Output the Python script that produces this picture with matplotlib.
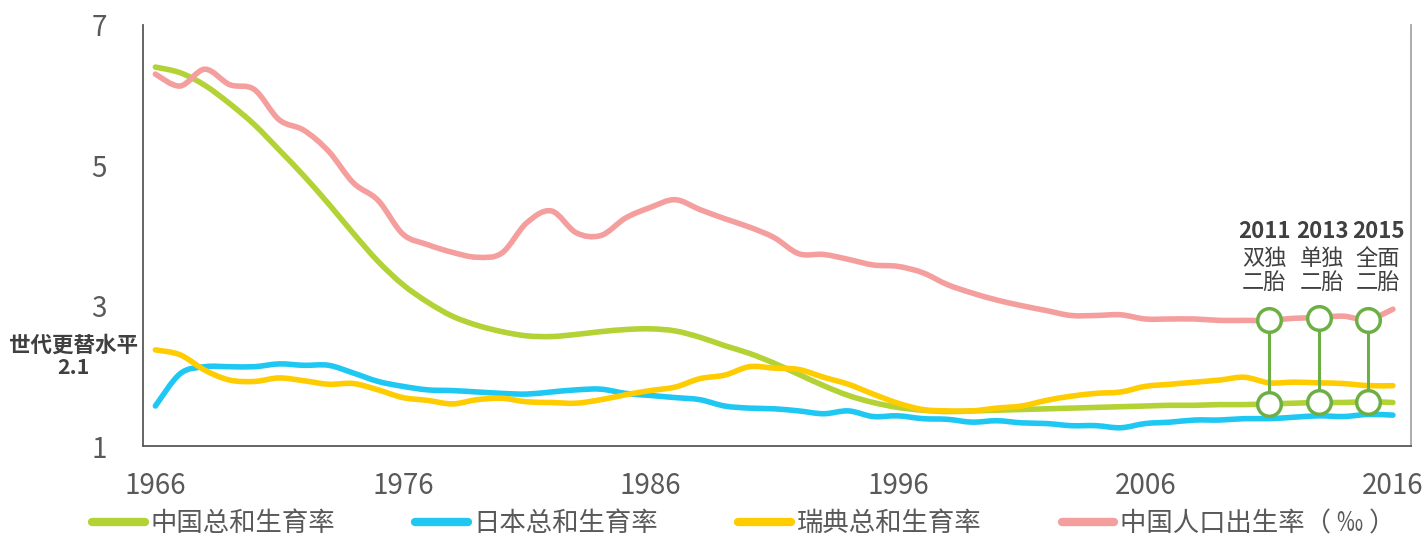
import numpy as np
import matplotlib
matplotlib.use('Agg')
import matplotlib.pyplot as plt
from matplotlib.path import Path
from matplotlib.patches import PathPatch
from matplotlib.lines import Line2D

plt.rcParams['font.family'] = ['Noto Sans CJK SC', 'DejaVu Sans']

years = np.arange(1966, 2017)

# 中国总和生育率
china_tfr = [6.40, 6.32, 6.14, 5.88, 5.58, 5.22, 4.85, 4.45, 4.03, 3.63,
             3.30, 3.05, 2.85, 2.72, 2.63, 2.57, 2.56, 2.59, 2.63, 2.66,
             2.67, 2.64, 2.55, 2.43, 2.32, 2.18, 2.02, 1.86, 1.72, 1.62,
             1.55, 1.51, 1.49, 1.50, 1.51, 1.52, 1.53, 1.54, 1.55, 1.56,
             1.57, 1.58, 1.58, 1.59, 1.59, 1.60, 1.61, 1.62, 1.62, 1.63,
             1.62]
# 日本总和生育率
japan_tfr = [1.57, 2.03, 2.13, 2.13, 2.13, 2.17, 2.15, 2.15, 2.04, 1.92,
             1.85, 1.80, 1.79, 1.77, 1.75, 1.74, 1.77, 1.80, 1.81, 1.75,
             1.72, 1.69, 1.66, 1.57, 1.54, 1.53, 1.50, 1.46, 1.50, 1.42,
             1.43, 1.39, 1.38, 1.34, 1.36, 1.33, 1.32, 1.29, 1.29, 1.26,
             1.32, 1.34, 1.37, 1.37, 1.39, 1.39, 1.41, 1.43, 1.42, 1.45,
             1.44]
# 瑞典总和生育率
sweden_tfr = [2.37, 2.30, 2.08, 1.94, 1.92, 1.97, 1.93, 1.88, 1.89, 1.80,
              1.69, 1.65, 1.60, 1.66, 1.68, 1.63, 1.62, 1.61, 1.66, 1.73,
              1.79, 1.84, 1.96, 2.01, 2.13, 2.11, 2.09, 1.98, 1.88, 1.74,
              1.61, 1.52, 1.50, 1.50, 1.54, 1.57, 1.65, 1.71, 1.75, 1.77,
              1.85, 1.88, 1.91, 1.94, 1.98, 1.90, 1.91, 1.90, 1.89, 1.86,
              1.86]
# 中国人口出生率（‰，按图中比例）
china_birth = [6.30, 6.13, 6.37, 6.15, 6.08, 5.65, 5.50, 5.20, 4.75, 4.50,
               4.02, 3.87, 3.76, 3.69, 3.75, 4.18, 4.35, 4.04, 4.00, 4.25,
               4.40, 4.51, 4.37, 4.24, 4.12, 3.97, 3.74, 3.73, 3.66, 3.58,
               3.56, 3.47, 3.30, 3.18, 3.08, 3.00, 2.93, 2.86, 2.86, 2.87,
               2.81, 2.81, 2.81, 2.79, 2.79, 2.79, 2.82, 2.83, 2.85, 2.80,
               2.95]

series_names = ['中国总和生育率', '日本总和生育率', '瑞典总和生育率', '中国人口出生率（ ‰ ）']

policy_years = [2011, 2013, 2015]
policy_names = ['双独\n二胎', '单独\n二胎', '全面\n二胎']

c_green = '#B2D235'
c_blue = '#1FC8F2'
c_yellow = '#FFCC00'
c_pink = '#F59E9E'
c_mark = '#6DAF45'
c_text = '#595959'


def smooth_path(x, y):
    # smoothed line like Excel: bezier segments through every data point
    p = np.column_stack([x, y]).astype(float)
    ext = np.vstack([p[0], p, p[-1]])
    verts = [p[0]]
    codes = [Path.MOVETO]
    for i in range(len(p) - 1):
        c1 = ext[i + 1] + (ext[i + 2] - ext[i]) / 6
        c2 = ext[i + 2] - (ext[i + 3] - ext[i + 1]) / 6
        verts += [c1, c2, p[i + 1]]
        codes += [Path.CURVE4] * 3
    return Path(verts, codes)


fig = plt.figure(figsize=(14.24, 5.37), dpi=100)
ax = fig.add_axes([143/1424, 91/537, 1268/1424, 421/537])

lw = 4
handles = []
for vals, col, name in zip([china_tfr, japan_tfr, sweden_tfr, china_birth],
                           [c_green, c_blue, c_yellow, c_pink], series_names):
    ax.add_patch(PathPatch(smooth_path(years, vals), fill=False, edgecolor=col,
                           lw=lw, capstyle='round', joinstyle='round'))
    handles.append(Line2D([], [], color=col, lw=6, solid_capstyle='round', label=name))

# label columns are spread a little wider than the markers
label_shift = [-0.2, 0.15, 0.4]
for yr, name, dx in zip(policy_years, policy_names, label_shift):
    i = yr - 1966
    ax.plot([yr, yr], [china_tfr[i], china_birth[i]], color=c_mark, lw=2.2,
            marker='o', ms=17, mfc='white', mec=c_mark, mew=2.5, zorder=5)
    ax.text(yr + dx, 4.06, str(yr), ha='center', va='center', fontsize=16,
            fontweight='bold', color='#404040')
    ax.text(yr + dx, 3.5, name, ha='center', va='center', fontsize=16,
            color='#404040', linespacing=1.12)

ax.text(-0.055, 2.28, '世代更替水平\n2.1', transform=ax.get_yaxis_transform(),
        ha='center', va='center', fontsize=15.5, fontweight='bold', color='#404040',
        linespacing=1.1)

ax.set_xlim(1965.5, 2016.73)
ax.set_ylim(1, 7)
ax.set_xticks(np.arange(1966, 2017, 10))
ax.set_yticks([1, 3, 5, 7])
ax.tick_params(length=0, labelsize=20, colors=c_text)
ax.tick_params(axis='x', pad=18)
ax.tick_params(axis='y', pad=26)

ax.spines['top'].set_visible(False)
for s in ['left', 'bottom']:
    ax.spines[s].set_color('#595959')
    ax.spines[s].set_linewidth(1.3)
ax.spines['right'].set_color('#A6A6A6')
ax.spines['right'].set_linewidth(1.3)

leg = fig.legend(handles=handles, loc='lower left', bbox_to_anchor=(92/1424, 0.0),
                 ncol=4, frameon=False, fontsize=19, handlelength=2.0,
                 handletextpad=0.2, columnspacing=3.05, borderaxespad=0, borderpad=0)
for t in leg.get_texts():
    t.set_color(c_text)

fig.savefig('out.png', dpi=100)
